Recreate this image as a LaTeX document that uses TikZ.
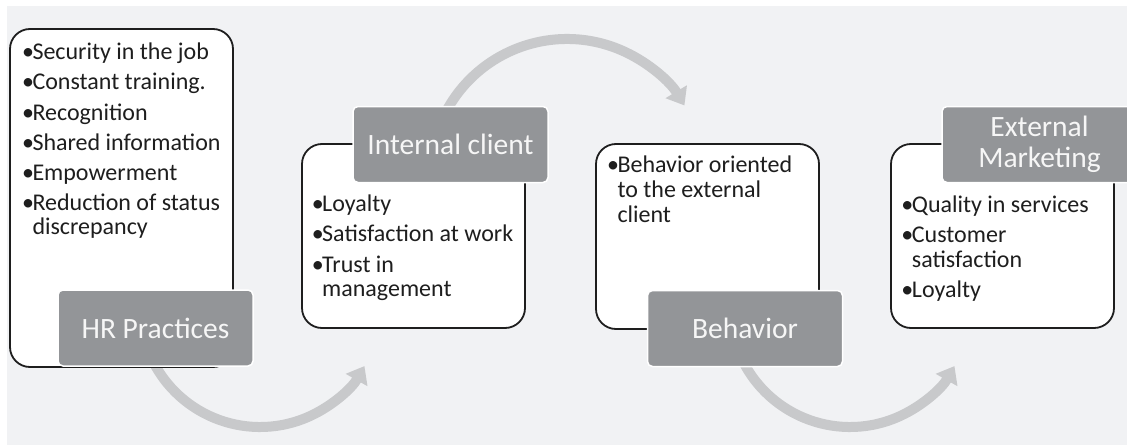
\documentclass[tikz,border=0pt]{standalone}
\usepackage{fontspec}
\setmainfont{Carlito}
\usetikzlibrary{arrows.meta,calc}
\definecolor{bgc}{HTML}{F1F2F4}
\definecolor{arrc}{HTML}{C8C9CB}
\definecolor{grayc}{HTML}{939598}
\definecolor{ttlc}{HTML}{F6F6F6}
\definecolor{txtc}{HTML}{1E1E1E}
\newcommand{\bul}{\llap{•\kern-1.5pt}}
\tikzset{
  wbox/.style={draw=txtc, line width=1.8pt, fill=white, rounded corners=20pt, inner sep=0pt, minimum width=223pt},
  gbox/.style={draw=white, line width=1.5pt, fill=grayc, rounded corners=5pt, inner sep=0pt,
    minimum width=195pt, minimum height=76pt, text=ttlc, align=center,
    font=\fontsize{29.5}{31}\selectfont},
  item/.style={anchor=base west, inner sep=0pt, text=txtc, font=\fontsize{24}{24}\selectfont},
  flow/.style={draw=arrc, line width=10pt, -{Triangle[width=24pt,length=16pt]}}
}
\begin{document}
\begin{tikzpicture}[x=1pt,y=-1pt]
\useasboundingbox (0,0) rectangle (1127,447);
\clip (0,0) rectangle (1127,447);
\fill[bgc] (7,6) rectangle (1127,445);
% centres of the curved connectors
\coordinate (c1) at (260,307);
\coordinate (c2) at (567,176);
\coordinate (c3) at (850,307);
\draw[flow] ($(c1)+(155:120)$) arc[start angle=155, end angle=29.5, radius=120];
\draw[flow] ($(c2)+(205:137)$) arc[start angle=205, end angle=329, radius=137];
\draw[flow] ($(c3)+(155:120)$) arc[start angle=155, end angle=29.5, radius=120];
% white boxes
\node[wbox, minimum height=338pt] (b1) at (121.5,198) {};
\node[wbox, minimum height=184pt] (b2) at (413.5,236) {};
\node[wbox, minimum height=185pt] (b3) at (707.5,236.5) {};
\node[wbox, minimum height=184pt] (b4) at (1002.5,236) {};
% title boxes
\node[gbox] (g1) at (155.5,328) {HR Practices};
\node[gbox] (g2) at (450.5,144.5) {Internal client};
\node[gbox] (g3) at (745,328.5) {Behavior};
\node[gbox] (g4) at (1039.5,144.5) {External\\Marketing};
% box 1 text
\node[item] (t11) at (32.3,59) {\bul Security in the job};
\node[item] (t12) at (32.3,89.5) {\bul Constant training.};
\node[item] (t13) at (32.3,120) {\bul Recognition};
\node[item] (t14) at (32.3,150) {\bul Shared information};
\node[item] (t15) at (32.3,180) {\bul Empowerment};
\node[item] (t16) at (32.3,210) {\bul Reduction of status};
\node[item] (t17) at (32.3,234) {discrepancy};
% box 2 text
\node[item] (t21) at (322,211) {\bul Loyalty};
\node[item] (t22) at (322,241.5) {\bul Satisfaction at work};
\node[item] (t23) at (322,272) {\bul Trust in};
\node[item] (t24) at (322,296.5) {management};
% box 3 text
\node[item] (t31) at (617.3,172) {\bul Behavior oriented};
\node[item] (t32) at (617.3,197) {to the external};
\node[item] (t33) at (617.3,222) {client};
% box 4 text
\node[item] (t41) at (911.7,212) {\bul Quality in services};
\node[item] (t42) at (911.7,242) {\bul Customer};
\node[item] (t43) at (911.7,267) {satisfaction};
\node[item] (t44) at (911.7,297) {\bul Loyalty};
\end{tikzpicture}
\end{document}
